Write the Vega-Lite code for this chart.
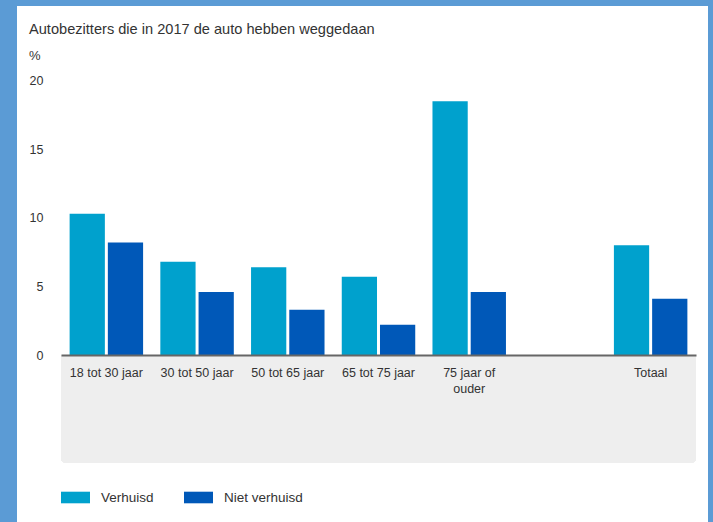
{
  "$schema": "https://vega.github.io/schema/vega-lite/v6.json",
  "width": 691,
  "height": 516,
  "autosize": {"type": "none"},
  "padding": {"left": 17, "top": 6, "right": 5, "bottom": 0},
  "background": "#5B9BD5",
  "config": {"view": {"fill": "white", "stroke": null}, "font": "Liberation Sans"},
  "title": {
    "text": "Autobezitters die in 2017 de auto hebben weggedaan",
    "subtitle": "%",
    "anchor": "start",
    "frame": "group",
    "offset": -57,
    "dx": 12,
    "fontSize": 14.6,
    "fontWeight": "normal",
    "color": "#333333",
    "subtitleFontSize": 13,
    "subtitleColor": "#333333",
    "subtitlePadding": 13
  },
  "data": {
    "values": [
      {"leeftijd": "18 tot 30 jaar", "groep": "Verhuisd", "pct": 10.3},
      {"leeftijd": "18 tot 30 jaar", "groep": "Niet verhuisd", "pct": 8.2},
      {"leeftijd": "30 tot 50 jaar", "groep": "Verhuisd", "pct": 6.8},
      {"leeftijd": "30 tot 50 jaar", "groep": "Niet verhuisd", "pct": 4.6},
      {"leeftijd": "50 tot 65 jaar", "groep": "Verhuisd", "pct": 6.4},
      {"leeftijd": "50 tot 65 jaar", "groep": "Niet verhuisd", "pct": 3.3},
      {"leeftijd": "65 tot 75 jaar", "groep": "Verhuisd", "pct": 5.7},
      {"leeftijd": "65 tot 75 jaar", "groep": "Niet verhuisd", "pct": 2.2},
      {"leeftijd": "75 jaar of ouder", "groep": "Verhuisd", "pct": 18.5},
      {"leeftijd": "75 jaar of ouder", "groep": "Niet verhuisd", "pct": 4.6},
      {"leeftijd": "Totaal", "groep": "Verhuisd", "pct": 8.0},
      {"leeftijd": "Totaal", "groep": "Niet verhuisd", "pct": 4.1}
    ]
  },
  "layer": [
    {
      "mark": {"type": "rect", "color": "#EEEEEE", "cornerRadiusBottomLeft": 5, "cornerRadiusBottomRight": 5},
      "encoding": {
        "x": {"datum": 0, "type": "quantitative", "scale": {"domain": [0, 1], "range": [44, 679]}, "axis": null},
        "x2": {"datum": 1},
        "y": {"datum": -7.87, "type": "quantitative", "scale": {"domain": [0, 20], "range": [349, 74.7], "nice": false}},
        "y2": {"datum": 0}
      }
    },
    {
      "mark": {"type": "bar"},
      "encoding": {
        "x": {
          "field": "leeftijd",
          "type": "nominal",
          "sort": null,
          "scale": {
            "domain": ["18 tot 30 jaar", "30 tot 50 jaar", "50 tot 65 jaar", "65 tot 75 jaar", "75 jaar of ouder", " ", "Totaal"],
            "range": [44, 679],
            "paddingInner": 0.19,
            "paddingOuter": 0.095
          },
          "axis": {
            "title": null,
            "orient": "bottom",
            "offset": -167,
            "labelAngle": 0,
            "ticks": false,
            "tickSize": 0,
            "labelPadding": 11,
            "domainColor": "#666666",
            "domainWidth": 2,
            "labelColor": "#333333",
            "labelFontSize": 12.5,
            "labelOverlap": false,
            "labelLineHeight": 16,
            "zindex": 1,
            "labelExpr": "datum.label == '75 jaar of ouder' ? ['75 jaar of', 'ouder'] : datum.label"
          }
        },
        "xOffset": {
          "field": "groep",
          "type": "nominal",
          "sort": ["Verhuisd", "Niet verhuisd"],
          "scale": {"paddingInner": 0.078}
        },
        "y": {
          "field": "pct",
          "type": "quantitative",
          "scale": {"domain": [0, 20], "range": [349, 74.7], "nice": false},
          "axis": {
            "title": null,
            "values": [0, 5, 10, 15, 20],
            "offset": -26,
            "labelPadding": 0,
            "ticks": false,
            "tickSize": 0,
            "domain": false,
            "gridColor": "#E3E3E3",
            "labelColor": "#333333",
            "labelFontSize": 12.5
          }
        },
        "color": {
          "field": "groep",
          "type": "nominal",
          "sort": ["Verhuisd", "Niet verhuisd"],
          "scale": {"domain": ["Verhuisd", "Niet verhuisd"], "range": ["#00A1CD", "#0058B8"]},
          "legend": {
            "title": null,
            "orient": "none",
            "legendX": 44,
            "legendY": 477,
            "direction": "horizontal",
            "symbolType": "M-1,-0.4H1V0.4H-1Z",
            "symbolSize": 841,
            "symbolStrokeWidth": 0,
            "symbolOpacity": 1,
            "labelFontSize": 13.5,
            "labelColor": "#333333",
            "labelOffset": 11,
            "columnPadding": 30
          }
        }
      }
    }
  ],
  "resolve": {"scale": {"x": "independent"}}
}
